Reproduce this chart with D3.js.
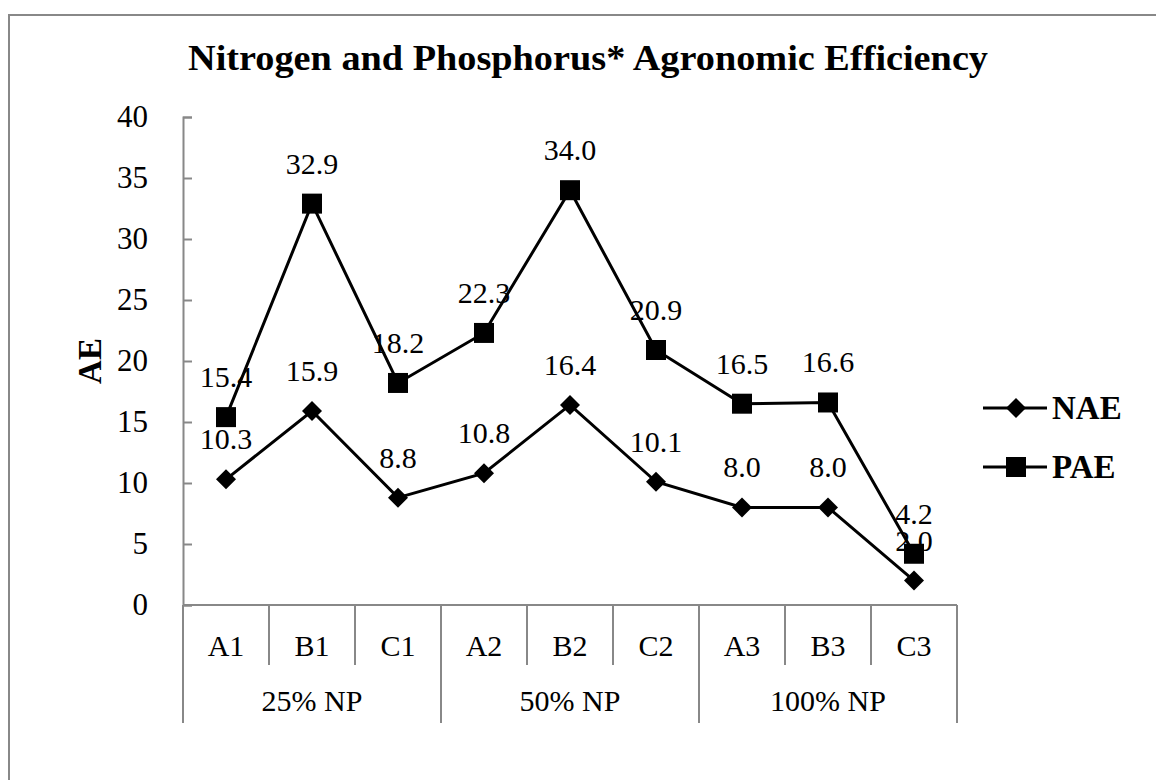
<!DOCTYPE html>
<html>
<head>
<meta charset="utf-8">
<script src="https://d3js.org/d3.v7.min.js"></script>
<style>
  body { margin: 0; background: #fff; }
  text { font-family: "Liberation Serif", "Times New Roman", serif; fill: #000; }
</style>
</head>
<body>
<div id="chart"></div>
<script>
let categories = ["A1", "B1", "C1", "A2", "B2", "C2", "A3", "B3", "C3"];
let groups = ["25% NP", "50% NP", "100% NP"];
let nae = [10.3, 15.9, 8.8, 10.8, 16.4, 10.1, 8.0, 8.0, 2.0];
let pae = [15.4, 32.9, 18.2, 22.3, 34.0, 20.9, 16.5, 16.6, 4.2];
let yTicks = [0, 5, 10, 15, 20, 25, 30, 35, 40];

let width = 1156, height = 780;
let plotLeft = 183, plotRight = 957, plotTop = 117, plotBottom = 605;

let svg = d3.select("#chart").append("svg")
  .attr("width", width)
  .attr("height", height);

// outer frame
svg.append("rect")
  .attr("x", 9).attr("y", 15)
  .attr("width", 1160).attr("height", 800)
  .attr("fill", "none").attr("stroke", "#888").attr("stroke-width", 2);

svg.append("text")
  .attr("x", 588).attr("y", 70)
  .attr("text-anchor", "middle")
  .style("font-size", "36px").style("font-weight", "bold")
  .attr("textLength", 800).attr("lengthAdjust", "spacingAndGlyphs")
  .text("Nitrogen and Phosphorus*  Agronomic  Efficiency");

let xScale = d3.scaleBand().domain(categories).range([plotLeft, plotRight]);
let yScale = d3.scaleLinear().domain([0, 40]).range([plotBottom, plotTop]);

// y axis
let yAxis = d3.axisLeft(yScale).tickValues(yTicks).tickSize(-9).tickPadding(35);
let gy = svg.append("g").attr("transform", `translate(${plotLeft},0)`).call(yAxis);
gy.select(".domain").attr("stroke", "#888").attr("stroke-width", 2);
gy.selectAll(".tick line").attr("stroke", "#888").attr("stroke-width", 2);
gy.selectAll(".tick text")
  .style("font-family", "Liberation Serif, serif").style("font-size", "31px").attr("fill", "#000");

svg.append("text")
  .attr("transform", `translate(101,${(plotTop + plotBottom) / 2}) rotate(-90)`)
  .attr("text-anchor", "middle")
  .style("font-size", "33px").style("font-weight", "bold")
  .text("AE");

// x axis with two-level labels
let axisCol = "#888";
svg.append("line")
  .attr("x1", plotLeft).attr("x2", plotRight).attr("y1", plotBottom).attr("y2", plotBottom)
  .attr("stroke", axisCol).attr("stroke-width", 2);
categories.forEach(function(c, i) {
  let x0 = xScale(c);
  let isGroupEdge = i % 3 == 0;
  svg.append("line")
    .attr("x1", x0).attr("x2", x0)
    .attr("y1", plotBottom).attr("y2", isGroupEdge ? 723 : 665)
    .attr("stroke", axisCol).attr("stroke-width", 2);
  svg.append("text")
    .attr("x", x0 + xScale.bandwidth() / 2).attr("y", 656)
    .attr("text-anchor", "middle")
    .style("font-size", "30px")
    .text(c);
});
svg.append("line")
  .attr("x1", plotRight).attr("x2", plotRight).attr("y1", plotBottom).attr("y2", 723)
  .attr("stroke", axisCol).attr("stroke-width", 2);
groups.forEach(function(g, i) {
  let x0 = xScale(categories[i * 3]);
  let x1 = xScale(categories[i * 3 + 2]) + xScale.bandwidth();
  svg.append("text")
    .attr("x", (x0 + x1) / 2).attr("y", 711)
    .attr("text-anchor", "middle")
    .style("font-size", "30px")
    .text(g);
});

let lineGenerator = d3.line()
  .x(function(d, i) { return xScale(categories[i]) + xScale.bandwidth() / 2; })
  .y(function(d) { return yScale(d); });

// diamond = square turned 45 degrees
let series = [
  { name: "NAE", values: nae, size: 200, rot: 45 },
  { name: "PAE", values: pae, size: 400, rot: 0 }
];

series.forEach(function(s) {
  svg.append("path")
    .attr("d", lineGenerator(s.values))
    .attr("fill", "none").attr("stroke", "#000").attr("stroke-width", 3);
  s.values.forEach(function(v, i) {
    let cx = xScale(categories[i]) + xScale.bandwidth() / 2;
    let cy = yScale(v);
    svg.append("path")
      .attr("d", d3.symbol().type(d3.symbolSquare).size(s.size)())
      .attr("transform", `translate(${cx},${cy}) rotate(${s.rot})`)
      .attr("fill", "#000");
    svg.append("text")
      .attr("x", cx).attr("y", cy - 30)
      .attr("text-anchor", "middle")
      .style("font-size", "30px")
      .text(v.toFixed(1));
  });
});

// legend
series.forEach(function(s, i) {
  let ly = 408 + i * 59;
  svg.append("line")
    .attr("x1", 983).attr("x2", 1047).attr("y1", ly).attr("y2", ly)
    .attr("stroke", "#000").attr("stroke-width", 3);
  svg.append("path")
    .attr("d", d3.symbol().type(d3.symbolSquare).size(s.size)())
    .attr("transform", `translate(1016,${ly}) rotate(${s.rot})`)
    .attr("fill", "#000");
  svg.append("text")
    .attr("x", 1052).attr("y", ly + 11)
    .style("font-size", "33px").style("font-weight", "bold")
    .text(s.name);
});
</script>
</body>
</html>
